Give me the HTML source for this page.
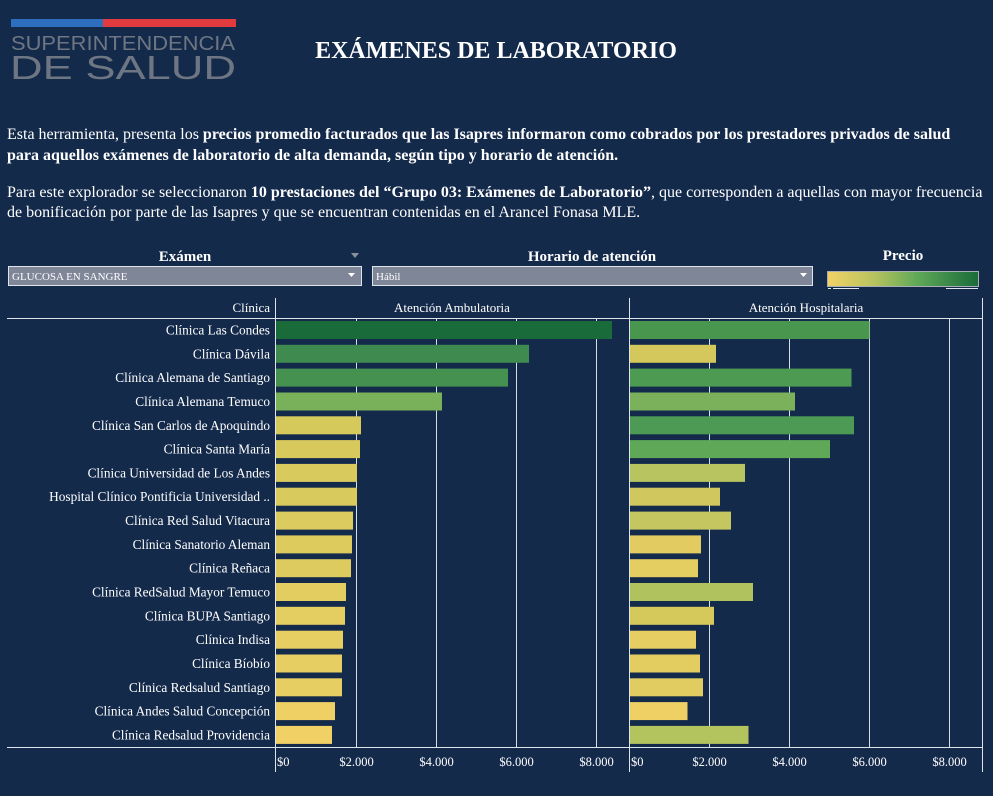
<!DOCTYPE html>
<html lang="es">
<head>
<meta charset="utf-8">
<style>
html,body{margin:0;padding:0;background:#142a4b;}
body{width:993px;height:796px;overflow:hidden;}
svg{display:block;font-family:"Liberation Serif",serif;}
</style>
</head>
<body>
<svg width="993" height="796" viewBox="0 0 993 796" xmlns="http://www.w3.org/2000/svg">
<rect x="0" y="0" width="993" height="796" fill="#142a4b"/>

<!-- Logo -->
<rect x="11" y="19" width="92" height="8" fill="#2e6ebf"/>
<rect x="103" y="19" width="133" height="8" fill="#e13b40"/>
<text x="11" y="50" font-family="Liberation Sans, sans-serif" font-size="20.5" fill="#6e7683" textLength="224" lengthAdjust="spacingAndGlyphs">SUPERINTENDENCIA</text>
<text x="10" y="79" font-family="Liberation Sans, sans-serif" font-size="33" fill="#6e7683" textLength="226" lengthAdjust="spacingAndGlyphs">DE SALUD</text>

<!-- Title -->
<text x="496" y="58" text-anchor="middle" font-size="24" font-weight="bold" fill="#ffffff">EXÁMENES DE LABORATORIO</text>

<!-- Paragraphs -->
<g font-size="16" fill="#ffffff">
<text x="7" y="139">Esta herramienta, presenta los <tspan font-weight="bold">precios promedio facturados que las Isapres informaron como cobrados por los prestadores privados de salud</tspan></text>
<text x="7" y="160" font-weight="bold">para aquellos exámenes de laboratorio de alta demanda, según tipo y horario de atención.</text>
<text x="7" y="197">Para este explorador se seleccionaron <tspan font-weight="bold">10 prestaciones del “Grupo 03: Exámenes de Laboratorio”</tspan>, que corresponden a aquellas con mayor frecuencia</text>
<text x="7" y="217">de bonificación por parte de las Isapres y que se encuentran contenidas en el Arancel Fonasa MLE.</text>
</g>

<!-- Filters -->
<g font-size="15" font-weight="bold" fill="#ffffff" text-anchor="middle">
<text x="185" y="261">Exámen</text>
<text x="592" y="261">Horario de atención</text>
<text x="903" y="260">Precio</text>
</g>
<polygon points="351,253 359,253 355,258" fill="#8a909c"/>
<rect x="8.5" y="266.5" width="353" height="19" fill="#7e8698" stroke="#dfe3ea" stroke-width="1"/>
<text x="12" y="280" font-size="11" fill="#ffffff">GLUCOSA EN SANGRE</text>
<polygon points="348,273 355,273 351.5,277" fill="#ffffff"/>
<rect x="372.5" y="266.5" width="440" height="19" fill="#7e8698" stroke="#dfe3ea" stroke-width="1"/>
<text x="376" y="280" font-size="11" fill="#ffffff">Hábil</text>
<polygon points="800,273 807,273 803.5,277" fill="#ffffff"/>

<!-- Legend -->
<defs>
<linearGradient id="lg" x1="0" x2="1" y1="0" y2="0">
<stop offset="0" stop-color="#f2d166"/>
<stop offset="0.3" stop-color="#b9c45f"/>
<stop offset="0.6" stop-color="#5ea858"/>
<stop offset="1" stop-color="#1a6b3a"/>
</linearGradient>
</defs>
<rect x="827.5" y="271.5" width="151" height="15" fill="url(#lg)" stroke="#a9adb4" stroke-width="1"/>
<rect x="828" y="288" width="3" height="1" fill="#dfe3ea"/>
<rect x="833" y="288" width="26" height="1" fill="#dfe3ea"/>
<rect x="946" y="288" width="32" height="1" fill="#dfe3ea"/>

<!-- Chart headers -->
<g font-size="13" fill="#ffffff">
<text x="270" y="312" text-anchor="end">Clínica</text>
<text x="452" y="312" text-anchor="middle">Atención Ambulatoria</text>
<text x="806" y="312" text-anchor="middle">Atención Hospitalaria</text>
</g>

<!-- Gridlines -->
<g stroke="#d8dde5" stroke-width="1">
<line x1="356.5" y1="318" x2="356.5" y2="747"/>
<line x1="436.5" y1="318" x2="436.5" y2="747"/>
<line x1="516.5" y1="318" x2="516.5" y2="747"/>
<line x1="596.5" y1="318" x2="596.5" y2="747"/>
<line x1="709.5" y1="318" x2="709.5" y2="747"/>
<line x1="789.5" y1="318" x2="789.5" y2="747"/>
<line x1="869.5" y1="318" x2="869.5" y2="747"/>
<line x1="949.5" y1="318" x2="949.5" y2="747"/>
</g>

<!-- Bars: Ambulatoria -->
<g>
<rect x="276" y="321.0" width="336" height="18" fill="#1a6b3a"/>
<rect x="276" y="344.8" width="253" height="18" fill="#3f8b4f"/>
<rect x="276" y="368.6" width="232" height="18" fill="#45914f"/>
<rect x="276" y="392.5" width="166" height="18" fill="#79b05a"/>
<rect x="276" y="416.3" width="85" height="18" fill="#d6c95c"/>
<rect x="276" y="440.1" width="84" height="18" fill="#d7c95c"/>
<rect x="276" y="463.9" width="81" height="18" fill="#d9ca5d"/>
<rect x="276" y="487.7" width="81" height="18" fill="#d9ca5d"/>
<rect x="276" y="511.6" width="77" height="18" fill="#dccb5e"/>
<rect x="276" y="535.4" width="76" height="18" fill="#ddcb5e"/>
<rect x="276" y="559.2" width="75" height="18" fill="#decb5f"/>
<rect x="276" y="583.0" width="70" height="18" fill="#e3cd61"/>
<rect x="276" y="606.8" width="69" height="18" fill="#e4cd61"/>
<rect x="276" y="630.7" width="67" height="18" fill="#e6ce62"/>
<rect x="276" y="654.5" width="66" height="18" fill="#e7ce62"/>
<rect x="276" y="678.3" width="66" height="18" fill="#e7ce62"/>
<rect x="276" y="702.1" width="59" height="18" fill="#eed064"/>
<rect x="276" y="725.9" width="56" height="18" fill="#f1d166"/>
</g>

<!-- Bars: Hospitalaria -->
<g>
<rect x="629.5" y="321.0" width="240" height="18" fill="#49974f"/>
<rect x="629.5" y="344.8" width="86.5" height="18" fill="#d4c85d"/>
<rect x="629.5" y="368.6" width="222" height="18" fill="#4d9a53"/>
<rect x="629.5" y="392.5" width="165.5" height="18" fill="#7ab15a"/>
<rect x="629.5" y="416.3" width="224.5" height="18" fill="#4c9a53"/>
<rect x="629.5" y="440.1" width="200.5" height="18" fill="#5ea858"/>
<rect x="629.5" y="463.9" width="115.5" height="18" fill="#b7c45f"/>
<rect x="629.5" y="487.7" width="90.5" height="18" fill="#d0c75e"/>
<rect x="629.5" y="511.6" width="101.5" height="18" fill="#c6c660"/>
<rect x="629.5" y="535.4" width="71.5" height="18" fill="#e2cc61"/>
<rect x="629.5" y="559.2" width="68.5" height="18" fill="#e4cd61"/>
<rect x="629.5" y="583.0" width="123.5" height="18" fill="#b0c25e"/>
<rect x="629.5" y="606.8" width="84.5" height="18" fill="#d6c95c"/>
<rect x="629.5" y="630.7" width="66.5" height="18" fill="#e6ce62"/>
<rect x="629.5" y="654.5" width="70.5" height="18" fill="#e3cd61"/>
<rect x="629.5" y="678.3" width="73.5" height="18" fill="#e0cc60"/>
<rect x="629.5" y="702.1" width="58" height="18" fill="#efd065"/>
<rect x="629.5" y="725.9" width="119" height="18" fill="#b3c35e"/>
</g>

<!-- Row labels -->
<g font-size="13.3" fill="#ffffff" text-anchor="end">
<text x="270" y="334.5">Clínica Las Condes</text>
<text x="270" y="358.3">Clínica Dávila</text>
<text x="270" y="382.1">Clínica Alemana de Santiago</text>
<text x="270" y="406.0">Clínica Alemana Temuco</text>
<text x="270" y="429.8">Clínica San Carlos de Apoquindo</text>
<text x="270" y="453.6">Clínica Santa María</text>
<text x="270" y="477.4">Clínica Universidad de Los Andes</text>
<text x="270" y="501.2">Hospital Clínico Pontificia Universidad ..</text>
<text x="270" y="525.1">Clínica Red Salud Vitacura</text>
<text x="270" y="548.9">Clínica Sanatorio Aleman</text>
<text x="270" y="572.7">Clínica Reñaca</text>
<text x="270" y="596.5">Clínica RedSalud Mayor Temuco</text>
<text x="270" y="620.3">Clínica BUPA Santiago</text>
<text x="270" y="644.2">Clínica Indisa</text>
<text x="270" y="668.0">Clínica Bíobío</text>
<text x="270" y="691.8">Clínica Redsalud Santiago</text>
<text x="270" y="715.6">Clínica Andes Salud Concepción</text>
<text x="270" y="739.4">Clínica Redsalud Providencia</text>
</g>

<!-- Axis / frame lines -->
<g stroke="#dfe3ea" stroke-width="1">
<line x1="7" y1="318.5" x2="983" y2="318.5"/>
<line x1="7" y1="747.5" x2="983" y2="747.5"/>
<line x1="275.5" y1="298" x2="275.5" y2="772"/>
<line x1="629.5" y1="298" x2="629.5" y2="772"/>
<line x1="982.5" y1="298" x2="982.5" y2="772"/>
</g>

<!-- Axis tick labels -->
<g font-size="12.5" fill="#ffffff">
<text x="277" y="766">$0</text>
<text x="356.5" y="766" text-anchor="middle">$2.000</text>
<text x="436.5" y="766" text-anchor="middle">$4.000</text>
<text x="516.5" y="766" text-anchor="middle">$6.000</text>
<text x="596.5" y="766" text-anchor="middle">$8.000</text>
<text x="631" y="766">$0</text>
<text x="709.5" y="766" text-anchor="middle">$2.000</text>
<text x="789.5" y="766" text-anchor="middle">$4.000</text>
<text x="869.5" y="766" text-anchor="middle">$6.000</text>
<text x="949.5" y="766" text-anchor="middle">$8.000</text>
</g>
</svg>
</body>
</html>
